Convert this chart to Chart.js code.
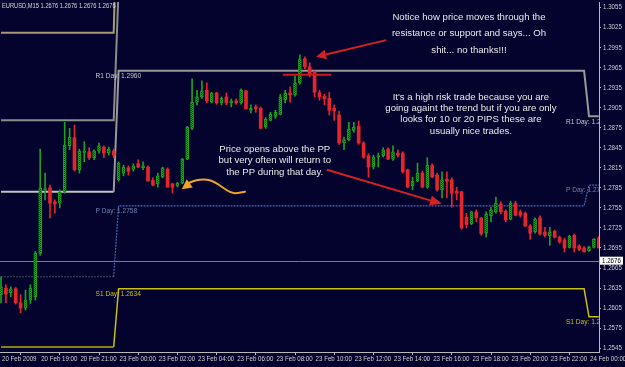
<!DOCTYPE html>
<html><head><meta charset="utf-8">
<script src="https://cdn.jsdelivr.net/npm/chart.js@4.4.0/dist/chart.umd.min.js"></script>
<style>html,body{margin:0;padding:0;background:#03032e;overflow:hidden}canvas{display:block}</style>
</head><body>
<canvas id="c" width="625" height="367"></canvas>
<script>
// ---- DATA (EURUSD M15, 20 Feb 2009 17:00 .. 24 Feb 00:30) ----
const open = [1.2625,1.2635,1.2628,1.2634,1.2613,1.2605,1.2617,1.2622,1.2687,1.2782,
1.2785,1.2764,1.2762,1.2779,1.2848,1.2860,1.2812,1.2838,1.2839,1.2830,
1.2840,1.2846,1.2837,1.2840,1.2797,1.2807,1.2815,1.2813,1.2821,1.2815,
1.2816,1.2796,1.2791,1.2801,1.2813,1.2791,1.2788,1.2792,1.2828,1.2874,
1.2913,1.2921,1.2931,1.2913,1.2927,1.2912,1.2921,1.2912,1.2915,1.2912,
1.2930,1.2901,1.2906,1.2904,1.2876,1.2886,1.2892,1.2895,1.2916,1.2927,
1.2924,1.2942,1.2978,1.2966,1.2958,1.2927,1.2922,1.2919,1.2904,1.2894,
1.2852,1.2857,1.2871,1.2877,1.2852,1.2833,1.2816,1.2831,1.2833,1.2843,
1.2828,1.2837,1.2837,1.2812,1.2788,1.2795,1.2807,1.2786,1.2818,1.2804,
1.2782,1.2798,1.2797,1.2780,1.2779,1.2741,1.2731,1.2749,1.2740,1.2717,
1.2743,1.2749,1.2761,1.2750,1.2738,1.2762,1.2749,1.2747,1.2728,1.2719,
1.2740,1.2719,1.2713,1.2720,1.2711,1.2707,1.2696,1.2714,1.2698,1.2695,
1.2691,1.2696,1.2710];
const high = [1.2652,1.2640,1.2637,1.2636,1.2625,1.2632,1.2640,1.2690,1.2843,1.2807,
1.2789,1.2767,1.2782,1.2883,1.2874,1.2879,1.2843,1.2854,1.2845,1.2842,
1.2852,1.2848,1.2846,1.2843,1.2824,1.2819,1.2818,1.2821,1.2827,1.2824,
1.2818,1.2800,1.2807,1.2816,1.2815,1.2792,1.2793,1.2829,1.2877,1.2948,
1.2931,1.2945,1.2942,1.2928,1.2928,1.2921,1.2927,1.2918,1.2918,1.2933,
1.2931,1.2909,1.2909,1.2906,1.2890,1.2898,1.2901,1.2925,1.2931,1.2936,
1.2952,1.2984,1.2981,1.2972,1.2960,1.2931,1.2925,1.2928,1.2909,1.2900,
1.2861,1.2883,1.2883,1.2885,1.2854,1.2836,1.2834,1.2837,1.2845,1.2845,
1.2848,1.2842,1.2839,1.2813,1.2801,1.2822,1.2810,1.2830,1.2821,1.2807,
1.2809,1.2809,1.2800,1.2786,1.2780,1.2747,1.2750,1.2752,1.2741,1.2749,
1.2756,1.2771,1.2764,1.2752,1.2765,1.2765,1.2752,1.2749,1.2730,1.2740,
1.2743,1.2726,1.2726,1.2722,1.2713,1.2710,1.2714,1.2716,1.2700,1.2697,
1.2698,1.2709,1.2712];
const low = [1.2613,1.2613,1.2622,1.2611,1.2598,1.2602,1.2612,1.2617,1.2684,1.2767,
1.2740,1.2747,1.2755,1.2777,1.2842,1.2810,1.2807,1.2824,1.2827,1.2827,
1.2837,1.2830,1.2834,1.2830,1.2795,1.2803,1.2804,1.2810,1.2815,1.2812,
1.2795,1.2788,1.2786,1.2800,1.2786,1.2777,1.2786,1.2791,1.2827,1.2872,
1.2909,1.2919,1.2912,1.2912,1.2910,1.2909,1.2909,1.2906,1.2910,1.2910,
1.2903,1.2897,1.2898,1.2873,1.2874,1.2885,1.2889,1.2894,1.2912,1.2913,
1.2922,1.2940,1.2963,1.2951,1.2921,1.2916,1.2909,1.2894,1.2886,1.2850,
1.2842,1.2855,1.2868,1.2850,1.2829,1.2801,1.2813,1.2816,1.2831,1.2827,
1.2826,1.2831,1.2807,1.2785,1.2782,1.2794,1.2785,1.2784,1.2800,1.2780,
1.2770,1.2770,1.2756,1.2767,1.2723,1.2725,1.2730,1.2734,1.2714,1.2711,
1.2734,1.2747,1.2746,1.2734,1.2737,1.2743,1.2741,1.2727,1.2708,1.2717,
1.2714,1.2711,1.2699,1.2710,1.2702,1.2689,1.2695,1.2689,1.2691,1.2689,
1.2690,1.2695,1.2695];
const close = [1.2637,1.2626,1.2634,1.2613,1.2605,1.2617,1.2635,1.2687,1.2785,1.2784,
1.2762,1.2761,1.2779,1.2849,1.2861,1.2812,1.2840,1.2840,1.2830,1.2840,
1.2848,1.2837,1.2843,1.2834,1.2822,1.2816,1.2810,1.2818,1.2816,1.2818,
1.2795,1.2789,1.2803,1.2815,1.2786,1.2786,1.2792,1.2828,1.2876,1.2913,
1.2921,1.2930,1.2915,1.2927,1.2912,1.2919,1.2912,1.2915,1.2912,1.2931,
1.2903,1.2904,1.2903,1.2874,1.2888,1.2895,1.2898,1.2921,1.2927,1.2924,
1.2942,1.2978,1.2966,1.2955,1.2928,1.2921,1.2918,1.2901,1.2900,1.2852,
1.2857,1.2873,1.2876,1.2852,1.2831,1.2816,1.2831,1.2833,1.2842,1.2828,
1.2839,1.2834,1.2809,1.2786,1.2795,1.2807,1.2786,1.2819,1.2801,1.2782,
1.2797,1.2795,1.2777,1.2777,1.2725,1.2730,1.2749,1.2740,1.2716,1.2746,
1.2752,1.2762,1.2749,1.2737,1.2762,1.2744,1.2744,1.2728,1.2717,1.2738,
1.2716,1.2714,1.2719,1.2711,1.2704,1.2695,1.2713,1.2695,1.2693,1.2689,
1.2696,1.2708,1.2695];

// daily pivot levels: [Fri 20 Feb, Mon 23 Feb, Tue 24 Feb]
const dayStartBar = [0, 24, 120];
const pivotR3 = [1.3017, 1.3286, 1.3192];
const pivotR2 = [1.2886, 1.3084, 1.3089];
const pivotR1 = [1.2779, 1.2960, 1.2892];
const pivotP  = [1.2652, 1.2758, 1.2789];
const pivotS1 = [1.2547, 1.2634, 1.2592];
const bidPrice = 1.2676;

const xTickBars = [0,8,16,24,32,40,48,56,64,72,80,88,96,104,112,120];
const xTickLabels = ['20 Feb 2009','20 Feb 19:00','20 Feb 21:00','23 Feb 00:00','23 Feb 02:00','23 Feb 04:00',
  '23 Feb 06:00','23 Feb 08:00','23 Feb 10:00','23 Feb 12:00','23 Feb 14:00','23 Feb 16:00','23 Feb 18:00',
  '23 Feb 20:00','23 Feb 22:00','24 Feb 00:00'];
const yTickValues = [1.3055,1.3025,1.2995,1.2965,1.2935,1.2905,1.2875,1.2845,1.2815,1.2785,
  1.2755,1.2725,1.2695,1.2665,1.2635,1.2605,1.2575,1.2545];

// ---- build ----
const UP = '#1fa01f', DOWN = '#e4252a';
const TXT = "'Liberation Sans',Arial,sans-serif";
const SQUEEZE = 0.82;
const bars = open.map((_, i) => i);
const isUp = i => close[i] >= open[i];
const dayOf = i => (i >= dayStartBar[2] ? 2 : i >= dayStartBar[1] ? 1 : 0);

const canvas = document.getElementById('c');
const mainCtx = canvas.getContext('2d');
const pc = document.createElement('canvas'); pc.width = 2; pc.height = 2;
const pg = pc.getContext('2d');
pg.fillStyle = '#0b400b'; pg.fillRect(0,0,2,2);
pg.fillStyle = UP; pg.fillRect(0,0,1,1); pg.fillRect(1,1,1,1);
const upPattern = mainCtx.createPattern(pc, 'repeat');

function pivotDataset(levels, color, fridayColor, width, dash) {
  return {
    type: 'line', order: 5,
    data: bars.map(i => ({x: i, y: levels[dayOf(i)]})),
    borderColor: color, borderWidth: width, borderDash: dash || [],
    pointRadius: 0, tension: 0, fill: false,
    segment: { borderColor: c => c.p0DataIndex < dayStartBar[1] - 1 ? fridayColor : color }
  };
}

// narrow (condensed) small text, like the terminal's small font
function smallText(ctx, s, x, y, size, color, align) {
  ctx.save();
  ctx.font = size + 'px ' + TXT; ctx.fillStyle = color;
  ctx.textAlign = align || 'left'; ctx.textBaseline = 'middle';
  ctx.translate(x, y); ctx.scale(SQUEEZE, 1);
  ctx.fillText(s, 0, 0);
  ctx.restore();
}

const overlay = {
  id: 'overlay',
  beforeDatasetsDraw(chart) {
    const {ctx, chartArea: a, scales: {y}} = chart;
    const py = Math.round(y.getPixelForValue(bidPrice)) + 0.5;
    ctx.save(); ctx.strokeStyle = '#7c7c7c'; ctx.lineWidth = 1;
    ctx.beginPath(); ctx.moveTo(a.left, py); ctx.lineTo(a.right, py); ctx.stroke(); ctx.restore();
  },
  afterDatasetsDraw(chart) {
    const {ctx, chartArea: a, scales: {x, y}} = chart;
    const X = v => x.getPixelForValue(v), Y = v => y.getPixelForValue(v);
    ctx.save();
    ctx.beginPath(); ctx.rect(a.left, a.top, a.right - a.left, a.bottom - a.top); ctx.clip();
    // pivot labels (Mon, Tue)
    const labs = [['R1', pivotR1, '#c8c8c8'], ['P', pivotP, '#6f84ad'], ['S1', pivotS1, '#c8c010']];
    [1, 2].forEach(d => labs.forEach(([n, arr, col]) => {
      smallText(ctx, n + ' Day: ' + arr[d].toFixed(4), X(dayStartBar[d] - 4.7), Y(arr[d]) + 5, 8, col);
    }));
    // red arrows
    const head = (x1, y1, x2, y2, len, w) => {
      const ang = Math.atan2(y2 - y1, x2 - x1), c = Math.cos(ang), s = Math.sin(ang);
      ctx.beginPath(); ctx.moveTo(x2, y2);
      ctx.lineTo(x2 - len * c + w * s, y2 - len * s - w * c);
      ctx.lineTo(x2 - len * c - w * s, y2 - len * s + w * c);
      ctx.closePath(); ctx.fill();
    };
    const arrow = (p, q, len, w, col) => {
      const x1 = X(p[0]), y1 = Y(p[1]), x2 = X(q[0]), y2 = Y(q[1]);
      const ang = Math.atan2(y2 - y1, x2 - x1);
      ctx.strokeStyle = col; ctx.fillStyle = col; ctx.lineWidth = 2;
      ctx.beginPath(); ctx.moveTo(x1, y1); ctx.lineTo(x2 - len * 0.8 * Math.cos(ang), y2 - len * 0.8 * Math.sin(ang)); ctx.stroke();
      head(x1, y1, x2, y2, len, w);
    };
    arrow([78.6, 1.3006], [64.3, 1.2981], 10, 5, '#d42222');
    arrow([66.5, 1.2812], [90.0, 1.2761], 12, 5, '#d42222');
    ctx.strokeStyle = '#c81c1c'; ctx.lineWidth = 2;
    ctx.beginPath(); ctx.moveTo(X(57.5), Y(1.2954)); ctx.lineTo(X(67.4), Y(1.2954)); ctx.stroke();
    // orange curly arrow
    const curve = [[49.8,1.27792],[48.37,1.27768],[46.94,1.27773],[45.1,1.27863],[43.47,1.27945],
      [42.04,1.27975],[40.61,1.27975],[39.18,1.27952],[37.96,1.27907],[36.88,1.27828]].map(p => [X(p[0]), Y(p[1])]);
    ctx.strokeStyle = '#f2a227'; ctx.fillStyle = '#f2a227'; ctx.lineWidth = 2; ctx.lineCap = 'round';
    ctx.beginPath(); ctx.moveTo(curve[0][0], curve[0][1]);
    for (let k = 1; k < curve.length - 2; k++) {
      const mx = (curve[k][0] + curve[k + 1][0]) / 2, my = (curve[k][1] + curve[k + 1][1]) / 2;
      ctx.quadraticCurveTo(curve[k][0], curve[k][1], mx, my);
    }
    ctx.lineTo(curve[curve.length - 2][0], curve[curve.length - 2][1]);
    ctx.stroke();
    const t = curve[curve.length - 1], b = curve[curve.length - 3];
    head(b[0], b[1], t[0], t[1], 10, 5);
    // texts
    ctx.fillStyle = '#e8e8e8'; ctx.font = '9.6px ' + TXT; ctx.textAlign = 'center'; ctx.textBaseline = 'middle';
    const block = (cx, ys, lines) => lines.forEach((s, k) => ctx.fillText(s, X(cx), Y(ys[k])));
    block(95.5, [1.30406, 1.30159, 1.29912], ['Notice how price moves through the', 'resistance or support and says... Oh', 'shit... no thanks!!!']);
    block(95.9, [1.29201, 1.29035, 1.28869, 1.28700], ["It's a high risk trade because you are", 'going againt the trend but if you are only', 'looks for 10 or 20 PIPS these are', 'usually nice trades.']);
    block(55.86, [1.28424, 1.28256, 1.28087], ['Price opens above the PP', 'but very often will return to', 'the PP during that day.']);
    ctx.restore();
  },
  afterDraw(chart) {
    const {ctx, chartArea: a, scales: {x, y}} = chart;
    const tc = '#cfcfcf';
    // axis labels (positions from the library's scales)
    x.ticks.forEach((t, k) => smallText(ctx, xTickLabels[k], x.getPixelForValue(t.value) + 1, a.bottom + 7, 7.5, tc));
    y.ticks.forEach(t => smallText(ctx, t.value.toFixed(4), a.right + 4, y.getPixelForValue(t.value), 7.5, tc));
    // header
    smallText(ctx, 'EURUSD,M15 ' + [bidPrice, bidPrice, bidPrice, bidPrice].map(v => v.toFixed(4)).join(' '), 2, 6, 7, '#d8d8d8');
    // bid price box
    const py = y.getPixelForValue(bidPrice);
    ctx.save(); ctx.fillStyle = '#ffffff'; ctx.fillRect(a.right + 1, py - 4, 23, 8); ctx.restore();
    smallText(ctx, bidPrice.toFixed(4), a.right + 3, py + 0.5, 7.5, '#000000');
  }
};

new Chart(canvas, {
  type: 'bar',
  data: {
    datasets: [
      { label: 'wick', order: 2, grouped: false, barThickness: 1, minBarLength: 1,
        data: bars.map(i => ({x: i, y: [low[i], high[i]]})),
        backgroundColor: bars.map(i => isUp(i) ? UP : DOWN), borderWidth: 0 },
      { label: 'body', order: 1, grouped: false, barThickness: 3, minBarLength: 1,
        data: bars.map(i => ({x: i, y: [open[i], close[i]]})),
        backgroundColor: bars.map(i => isUp(i) ? upPattern : DOWN),
        borderColor: bars.map(i => isUp(i) ? UP : DOWN),
        borderWidth: bars.map(i => isUp(i) ? 1 : 0), borderSkipped: false },
      pivotDataset(pivotR3, '#a89a74', '#a89a74', 2),
      pivotDataset(pivotR2, '#8c8c8c', '#8c8c8c', 2),
      pivotDataset(pivotR1, '#999999', '#c4c4c4', 2),
      pivotDataset(pivotP, '#4a68b0', '#3c4a5c', 1.2, [2, 1]),
      pivotDataset(pivotS1, '#c8c010', '#b4ac10', 1.5)
    ]
  },
  options: {
    responsive: false, animation: false, devicePixelRatio: 1,
    layout: { padding: { left: 0, right: 0, top: 2, bottom: 0 } },
    plugins: { legend: { display: false }, tooltip: { enabled: false } },
    scales: {
      x: {
        type: 'linear', min: -1 / 4.9, max: 598 / 4.9, offset: false,
        grid: { display: true, drawOnChartArea: false, drawTicks: true, tickLength: 3, color: '#b8b8b8' },
        border: { display: true, color: '#b8b8b8' },
        ticks: { display: false, autoSkip: false, maxRotation: 0, minRotation: 0 },
        afterBuildTicks: s => { s.ticks = xTickBars.map(v => ({value: v})); },
        afterFit: s => { s.height = 15; s.paddingLeft = 0; s.paddingRight = 0; }
      },
      y: {
        type: 'linear', position: 'right', min: 1.25394, max: 1.30630,
        grid: { display: true, drawOnChartArea: false, drawTicks: true, tickLength: 2, color: '#b8b8b8' },
        border: { display: true, color: '#b8b8b8' },
        ticks: { display: false },
        afterBuildTicks: s => { s.ticks = yTickValues.map(v => ({value: v})); },
        afterFit: s => { s.width = 26; s.paddingTop = 0; s.paddingBottom = 0; }
      }
    }
  },
  plugins: [overlay]
});
</script>
</body></html>
